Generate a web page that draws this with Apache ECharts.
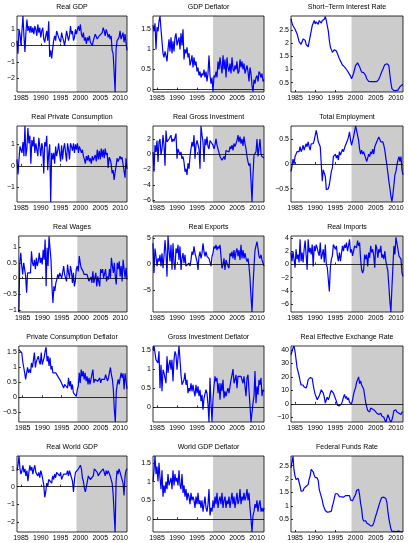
<!DOCTYPE html>
<html>
<head>
<meta charset="utf-8">
<title>Panels</title>
<script src="https://cdn.jsdelivr.net/npm/echarts@6.0.0/dist/echarts.min.js"></script>
<style>
html,body{margin:0;padding:0;background:#fff;}
#main{width:408px;height:543px;}
</style>
</head>
<body>
<div id="main"></div>
<script>
// quarterly data, 1984Q1 ... 2011Q4
var startYear = 1984;
var endYear = 2011.75;
var shadeFrom = 1999;
var yearTicks = [1985, 1990, 1995, 2000, 2005, 2010];

var realGdp = [0.3,-0.5,1.0,0.7,0.0,0.9,1.82,0.6,-0.4,0.8,1.6,0.9,1.2,0.8,
  1.2,0.8,1.1,0.7,1.2,1.0,0.6,1.3,0.8,1.1,0.5,0.9,1.1,0.4,0.2,
  0.6,0.9,0.3,1.5,-0.7,-0.3,-0.8,-0.2,0.3,0.6,0.3,0.9,0.7,0.5,0.6,0.2,
  0.8,0.5,0.3,0.0,0.4,0.9,0.6,0.3,0.6,1.2,0.7,
  0.9,0.3,0.5,1.0,0.7,1.0,1.2,0.9,1.3,0.7,0.5,0.8,0.3,0.5,0.1,0.5,
  0.3,0.6,0.2,0.1,0.0,0.3,0.5,0.7,0.6,0.4,0.3,0.6,0.7,0.5,0.8,
  1.1,0.9,0.6,1.0,0.8,0.5,0.7,0.4,0.6,-0.3,-0.5,-1.6,-2.86,-0.2,0.3,0.2,
  0.5,0.9,0.4,0.3,0.8,0.2,0.7,0.2,-0.3];

var gdpDeflator = [1.6,1.45,1.65,1.0,1.55,1.45,1.7,1.83,1.5,1.2,0.9,0.8,0.95,0.85,
  0.7,1.0,1.25,0.95,1.3,0.9,1.2,0.95,1.3,1.4,1.1,1.2,1.3,1.0,1.4,
  1.1,1.5,0.75,1.0,0.9,1.05,0.8,0.9,0.6,0.7,0.85,0.55,0.8,0.6,0.7,0.45,
  0.55,0.35,0.45,0.3,0.4,0.35,0.5,0.3,0.45,0.2,0.4,
  0.85,0.35,0.15,0.3,-0.05,0.35,0.3,0.45,0.3,0.7,0.5,0.8,0.6,0.4,0.85,0.5,
  0.75,0.3,0.8,0.55,0.45,0.65,0.4,0.8,0.5,0.45,0.6,0.5,0.7,0.4,0.45,
  0.75,0.55,0.7,0.5,0.65,0.4,0.5,0.6,0.45,0.2,0.55,0.4,0.1,-0.05,0.25,0.15,
  0.3,0.35,0.2,0.45,0.4,0.3,0.4,0.2,0.25];

var shortRate = [2.92,2.75,2.65,2.6,2.52,2.47,2.35,2.2,2.05,1.98,1.95,2.05,2.15,2.15,
  2.1,1.95,1.9,1.85,2.05,2.25,2.45,2.65,2.75,2.85,2.72,2.8,2.78,2.7,2.85,
  2.8,2.75,2.85,2.9,2.9,3.0,2.85,2.65,2.45,2.1,1.85,1.75,1.65,1.7,1.75,1.75,
  1.7,1.65,1.5,1.4,1.4,1.25,1.17,1.13,1.1,1.08,1.0,
  0.95,0.88,0.82,0.75,0.65,0.72,0.85,1.0,1.15,1.22,1.25,1.2,1.1,1.0,0.9,0.88,
  0.88,0.85,0.78,0.65,0.6,0.55,0.54,0.54,0.54,0.54,0.54,0.54,0.54,0.54,0.58,
  0.63,0.72,0.82,0.92,1.0,1.1,1.18,1.2,1.22,1.24,1.15,0.8,0.5,0.28,0.22,0.2,
  0.2,0.2,0.2,0.22,0.28,0.35,0.4,0.42,0.43];

var realCons = [0.3,-0.4,0.3,0.9,0.75,0.6,1.1,0.45,1.85,0.45,0.8,1.75,1.05,1.4,
  0.1,1.2,0.9,1.35,0.6,1.05,0.75,0.45,1.3,0.9,0.45,1.05,0.8,-0.35,1.1,
  0.9,1.4,-0.2,0.6,1.0,-1.68,0.6,0.3,0.6,0.1,0.9,0.45,0.7,1.05,0.6,0.2,
  0.95,0.3,0.8,1.05,0.6,0.2,1.05,0.75,0.3,1.05,0.9,
  0.7,1.05,0.6,1.0,0.75,1.05,0.6,0.9,0.95,0.6,0.75,0.45,0.3,0.1,0.45,0.25,
  0.5,0.2,0.35,0.1,0.45,0.25,0.3,0.5,0.2,0.75,0.3,0.7,0.3,0.8,0.4,
  0.75,0.35,0.8,0.5,0.6,-0.1,0.4,0.3,0.1,-0.35,-0.2,-0.65,-0.3,0.0,0.35,0.2,
  0.3,0.45,0.3,0.4,0.35,0.45,-0.55,0.35,-0.15];

var realInv = [0.3,-2.3,1.2,0.3,1.8,-1.0,1.6,2.0,-0.1,0.7,2.5,1.2,-1.5,3.1,
  1.6,1.8,2.0,1.8,2.5,1.6,2.0,1.7,2.2,2.7,-0.6,0.7,0.3,-0.1,0.3,
  -0.6,-0.3,-1.0,-2.3,-1.9,-2.7,-1.2,-1.9,-0.3,0.7,1.6,1.0,2.5,-0.6,1.2,1.8,
  2.0,0.7,-1.9,3.7,2.5,1.6,-1.0,2.0,1.2,2.3,1.0,
  0.7,1.8,2.0,1.6,1.2,0.7,1.2,2.0,1.2,0.7,0.9,-0.3,-0.1,-0.8,-0.6,-0.3,
  -0.7,0.5,0.3,0.7,0.3,1.0,0.7,1.2,0.5,1.4,1.0,0.9,1.8,2.5,1.6,
  2.3,1.4,2.0,1.1,2.3,1.4,0.7,-0.3,-1.0,-1.5,-1.2,-3.5,-6.26,-2.7,-0.1,-0.3,
  0.3,2.0,-0.3,-0.5,2.0,0.0,-0.3,-0.4,-0.5];

var employment = [-0.15,-0.05,0.1,0.0,0.15,0.2,0.25,0.28,0.25,0.35,
  0.25,0.3,0.38,0.28,0.25,0.41,0.35,0.45,0.35,0.28,
  0.41,0.45,0.41,0.48,0.58,0.68,0.58,0.45,0.41,
  0.35,0.0,-0.35,-0.12,-0.15,-0.25,-0.52,-0.49,-0.5,-0.42,
  -0.28,-0.15,-0.08,0.15,0.12,0.2,0.12,0.18,0.08,0.25,
  0.18,0.2,0.3,0.25,0.32,0.38,0.41,0.48,0.55,
  0.65,0.48,0.38,0.41,0.55,0.58,0.77,0.68,0.65,0.48,
  0.3,0.2,0.28,0.2,0.25,0.18,0.12,0.05,0.12,0.2,
  0.15,0.25,0.2,0.3,0.2,0.35,0.38,0.45,0.48,
  0.55,0.5,0.45,0.48,0.45,0.38,0.28,0.12,-0.02,-0.18,
  -0.35,-0.49,-0.65,-0.76,-0.62,-0.42,-0.22,-0.15,-0.02,0.08,
  0.15,0.05,0.15,-0.12,-0.22];

var realWages = [-1.07,0.5,0.82,0.4,0.13,0.5,0.3,0.07,-0.45,0.18,
  0.18,0.23,0.18,0.87,0.5,0.4,0.6,0.3,0.66,0.4,
  0.55,0.82,0.5,0.66,0.45,0.92,0.6,1.25,-0.25,
  0.98,0.4,1.35,1.36,0.6,-0.25,-0.78,-0.25,-0.4,-0.14,
  -0.03,0.13,0.02,0.18,0.13,0.02,0.2,0.4,0.13,0.18,
  -0.09,0.45,0.18,0.02,0.4,0.23,-0.14,0.18,-0.25,
  -0.09,0.3,0.4,0.23,0.72,0.5,0.34,0.4,0.23,0.13,
  0.07,0.18,0.13,0.13,-0.09,-0.03,0.05,-0.14,0.23,-0.14,
  0.02,0.18,-0.25,0.07,-0.09,-0.25,0.3,0.18,0.3,
  0.02,0.15,0.3,-0.09,0.07,-0.03,0.3,0.02,0.66,0.4,
  0.18,0.5,0.07,-0.19,0.5,0.3,0.55,0.07,0.4,-0.09,
  0.6,0.55,0.02,0.34,-0.03];

var realExports = [4.0,-1.7,3.0,1.5,-0.4,1.1,0.5,1.8,-0.4,2.1,
  -0.8,1.5,4.6,2.1,-2.4,5.4,2.7,0.5,3.7,-1.1,
  4.0,0.2,-1.1,3.0,2.1,3.7,0.8,3.4,-1.1,
  1.1,2.1,0.2,1.8,-0.4,-0.1,-0.4,0.2,-0.4,0.8,
  2.4,1.8,3.4,2.1,2.4,0.5,-1.1,1.5,2.4,1.1,
  2.1,4.0,2.4,1.5,2.4,1.5,1.8,1.1,0.8,
  -0.4,1.5,2.1,3.4,3.0,3.7,2.7,3.4,3.0,3.7,
  1.5,-0.8,-0.1,1.1,-1.1,0.8,0.5,-0.4,-0.8,2.1,
  1.5,2.4,1.1,2.7,0.8,2.4,3.0,1.5,2.7,
  0.8,3.7,1.1,2.7,1.1,2.1,1.1,0.5,1.1,-0.4,
  -2.7,-6.2,-9.2,-4.3,-0.4,2.7,2.4,4.3,3.0,1.5,
  1.1,1.8,0.8,1.0,-0.4];

var realImports = [1.8,0.5,2.0,2.3,-0.5,2.3,0.8,1.5,0.3,
  3.8,0.5,1.8,0.3,2.3,3.6,3.3,-0.8,3.8,1.8,
  2.5,1.5,3.0,-0.3,2.8,2.0,3.0,2.5,1.8,1.3,
  3.3,0.8,1.5,2.3,0.3,3.0,0.0,-0.5,-0.8,-4.1,
  -0.5,0.8,1.3,3.0,3.3,2.3,2.8,1.3,0.5,1.8,
  0.5,0.3,2.8,2.0,3.0,2.5,3.3,2.0,2.8,
  3.8,1.8,2.3,1.3,2.0,2.8,3.0,2.5,3.6,2.8,
  3.3,0.8,-0.8,-1.3,-0.8,1.5,0.8,1.5,-0.3,1.8,
  1.0,2.8,1.8,2.3,1.3,-0.5,3.0,2.5,1.0,
  2.3,1.8,2.8,1.0,1.5,0.8,2.0,0.5,0.3,-1.0,
  -3.3,-5.6,-7.2,-3.6,-0.3,2.8,1.5,4.1,4.3,2.3,
  1.3,1.0,0.8,-1.3,-1.8];

var pcDeflator = [1.6,1.55,1.66,1.5,1.2,1.15,0.82,0.6,0.82,1.0,
  0.82,0.93,0.82,1.15,1.0,1.05,1.5,1.0,1.2,1.15,
  1.38,1.2,1.1,1.5,1.1,1.15,1.33,1.55,1.68,
  1.2,1.38,1.05,1.33,0.93,1.05,0.82,0.76,0.88,0.82,
  0.76,0.7,0.76,0.7,0.54,0.6,0.48,0.31,0.43,
  0.37,0.48,0.31,0.65,0.37,0.54,0.26,0.43,0.15,0.2,
  0.09,0.03,0.26,0.37,0.82,0.48,0.93,0.7,0.88,0.6,
  0.82,0.54,0.7,0.43,0.65,0.43,0.6,0.54,0.93,0.48,
  0.6,0.54,0.6,0.54,0.6,0.65,0.48,0.6,0.65,
  0.54,0.6,0.76,0.7,0.54,0.65,0.7,1.0,0.76,0.6,
  0.26,-0.42,-0.83,0.2,0.43,0.6,0.43,0.65,0.82,0.65,
  0.8,0.26,0.8,0.75,0.28];

var giDeflator = [1.5,1.6,1.55,1.24,1.29,1.16,1.46,0.5,1.11,0.42,
  0.98,0.9,0.94,0.63,1.33,0.9,1.11,1.24,0.98,1.24,
  0.68,1.24,1.46,1.37,0.98,1.03,1.6,1.24,0.85,0.59,
  0.55,0.72,0.9,0.59,0.72,0.37,0.5,0.42,0.63,
  0.42,0.59,0.42,0.29,0.59,0.37,0.55,0.29,0.46,0.16,
  0.33,-0.06,0.24,0.2,0.46,0.37,0.07,-0.38,0.77,0.11,
  -0.38,0.24,0.55,0.81,0.68,0.77,0.37,0.63,0.2,0.63,
  0.42,0.72,0.24,0.42,0.29,0.42,0.5,0.37,0.55,
  0.72,0.85,1.0,0.63,0.72,0.85,0.5,0.81,0.77,
  0.85,0.81,0.85,0.63,0.81,0.77,0.29,0.77,0.85,0.81,
  0.03,-0.38,-0.38,0.11,0.29,0.95,0.11,0.55,0.33,0.72,
  0.59,0.77,0.29,0.46,0.42];

var reer = [36.5,39,41.5,43,39,33,27,24,21,17,14,13,14,12.5,
  12,11.8,14,18,18,19.5,20,19,14,10,7,5,3,2,6,
  8,10.5,10,8,5,0.5,3,5,3,5,8,10,9,8,7,4,
  2,-1,-2,-1.5,-1.5,0,2,5,7,4,5.5,
  3,4.5,1,0.5,0,3,7,10,12,16,18,20,15,17,14,15,
  11,6,1,-2,-5,-4,-6,-3,-2,-4,-5,-5,-4,-7,-6,
  -8,-9,-7,-9,-9,-10,-12,-13.5,-11,-8,-10,-12,-13.5,-12,-9,-5,
  -4,-4.5,-6,-5,-7,-6,-8,-6,-6.5];

var worldGdp = [0.9,1.2,1.72,1.0,0.7,0.9,1.2,0.8,1.0,0.6,0.9,0.3,0.8,1.2,
  0.9,1.1,0.7,1.0,1.2,0.8,0.9,0.6,0.8,0.5,0.9,0.7,0.4,0.1,-0.6,
  -0.3,0.2,0.0,0.4,0.3,0.5,0.2,0.6,0.4,0.7,0.5,0.8,0.9,0.7,0.6,0.8,
  0.4,0.5,0.7,0.6,0.8,0.7,0.9,0.6,0.9,1.0,0.5,
  0.3,-0.3,0.4,0.8,0.9,0.7,1.0,1.1,1.2,1.0,0.5,0.3,-0.1,-0.3,0.0,0.3,
  0.6,0.7,0.4,0.5,0.3,0.6,1.0,0.9,1.0,0.8,0.6,0.7,0.8,0.7,0.8,
  1.0,0.8,0.6,0.9,0.7,0.9,0.8,0.6,0.5,0.2,-0.4,-1.5,-2.55,0.3,0.9,0.7,
  1.0,0.8,0.6,0.5,0.2,-0.5,0.6,0.9,1.0];

var worldDeflator = [1.0,1.3,1.68,1.2,1.4,1.0,1.5,1.1,0.8,1.3,0.6,0.9,0.7,1.0,
  0.8,1.2,0.9,1.0,1.1,0.8,1.3,0.9,1.2,1.0,1.1,0.9,1.3,0.9,0.8,
  1.2,0.7,0.9,0.6,0.8,0.5,0.7,0.6,0.4,0.7,0.5,0.6,0.5,0.3,0.6,0.4,
  0.7,0.4,0.5,0.3,0.5,0.2,0.4,0.6,0.3,0.2,0.4,
  0.8,0.1,0.3,0.2,0.5,0.3,0.6,0.4,0.7,0.3,0.5,0.6,0.4,0.7,0.3,0.5,
  0.6,0.3,0.5,0.4,0.6,0.3,0.5,0.7,0.4,0.6,0.3,0.5,0.7,0.4,0.5,
  0.8,0.4,0.6,0.5,0.7,0.5,0.6,0.8,0.5,0.7,0.3,0.0,-0.34,0.1,0.2,0.4,
  0.3,0.5,0.2,0.4,0.5,0.2,0.3,0.2,0.3];

var fedFunds = [2.42,2.64,2.85,2.32,2.12,1.98,1.98,2.03,1.96,1.73,1.55,1.57,
  1.56,1.66,1.71,1.73,1.67,1.79,2.00,2.12,2.36,2.43,2.27,2.15,
  2.06,2.06,2.04,1.94,1.61,1.47,1.41,1.21,1.01,0.94,0.82,0.76,
  0.76,0.75,0.77,0.75,0.80,0.99,1.12,1.29,1.45,1.51,1.45,1.43,
  1.34,1.31,1.33,1.32,1.32,1.38,1.38,1.38,1.38,1.38,1.38,1.22,
  1.18,1.19,1.27,1.33,1.42,1.57,1.63,1.62,1.40,1.08,0.88,0.53,
  0.43,0.44,0.44,0.36,0.31,0.31,0.26,0.25,0.25,0.26,0.36,0.49,
  0.62,0.74,0.87,1.00,1.12,1.23,1.31,1.31,1.32,1.31,1.27,1.13,
  0.80,0.52,0.49,0.13,0.05,0.05,0.04,0.03,0.03,0.05,0.05,0.05,
  0.04,0.02,0.02,0.02];

var panels = [
  {title:'Real GDP', data:realGdp, min:-2.86, max:1.82, ticks:[-2,-1,0,1]},
  {title:'GDP Deflator', data:gdpDeflator, min:-0.06, max:1.83, ticks:[0,0.5,1,1.5]},
  {title:'Short\u2212Term Interest Rate', data:shortRate, min:0.15, max:3.02, ticks:[0.5,1,1.5,2,2.5]},
  {title:'Real Private Consumption', data:realCons, min:-1.68, max:1.85, ticks:[-1,0,1]},
  {title:'Real Gross Investment', data:realInv, min:-6.26, max:3.7, ticks:[-6,-4,-2,0,2]},
  {title:'Total Employment', data:employment, min:-0.77, max:0.77, ticks:[-0.5,0,0.5]},
  {title:'Real Wages', data:realWages, min:-1.07, max:1.36, ticks:[-1,-0.5,0,0.5,1]},
  {title:'Real Exports', data:realExports, min:-9.2, max:5.4, ticks:[-5,0,5]},
  {title:'Real Imports', data:realImports, min:-7.2, max:4.3, ticks:[-6,-4,-2,0,2,4]},
  {title:'Private Consumption Deflator', data:pcDeflator, min:-0.83, max:1.72, ticks:[-0.5,0,0.5,1,1.5]},
  {title:'Gross Investment Deflator', data:giDeflator, min:-0.38, max:1.6, ticks:[0,0.5,1,1.5]},
  {title:'Real Effective Exchange Rate', data:reer, min:-13.5, max:43, ticks:[-10,0,10,20,30,40]},
  {title:'Real World GDP', data:worldGdp, min:-2.55, max:1.72, ticks:[-2,-1,0,1]},
  {title:'World GDP Deflator', data:worldDeflator, min:-0.34, max:1.68, ticks:[0,0.5,1,1.5]},
  {title:'Federal Funds Rate', data:fedFunds, min:0.02, max:2.86, ticks:[0.5,1,1.5,2,2.5]}
];

// layout of the 5x3 panel grid
var colLeft = [17, 153, 291];
var colWidth = [110, 111, 112];
var rowTop = [16, 126, 236, 346, 456];
var plotH = 76;
var fontFam = 'Liberation Sans, Arial, sans-serif';

function minus(v){
	return String(v).replace('-', '\u2212');
}
function plain(v){
	return String(v);
}

var myChart = echarts.init(document.getElementById('main'));
var grids = [], xAxes = [], yAxes = [], series = [], titles = [];

for (var i = 0; i < panels.length; i++) {
	var p = panels[i];
	var c = i % 3, r = Math.floor(i / 3);

	grids.push({
		left: colLeft[c], top: rowTop[r], width: colWidth[c], height: plotH,
		show: true, borderColor: '#000', borderWidth: 0.8,
		backgroundColor: 'transparent', z: 10
	});

	titles.push({
		text: p.title,
		left: colLeft[c] + colWidth[c] / 2,
		top: rowTop[r] - 12,
		textAlign: 'center',
		padding: 0,
		textStyle: {fontSize: 7, fontWeight: 'normal', color: '#000', fontFamily: fontFam}
	});

	xAxes.push({
		type: 'value', gridIndex: i, min: startYear, max: endYear,
		axisLine: {show: false},
		axisTick: {show: true, inside: true, length: 2, customValues: yearTicks, lineStyle: {color: '#000', width: 0.8}},
		axisLabel: {show: true, customValues: yearTicks, fontSize: 7, color: '#000', margin: 3, fontFamily: fontFam, formatter: plain},
		splitLine: {show: false}
	});

	yAxes.push({
		type: 'value', gridIndex: i, min: p.min, max: p.max,
		axisLine: {show: false},
		axisTick: {show: true, inside: true, length: 2, customValues: p.ticks, lineStyle: {color: '#000', width: 0.8}},
		axisLabel: {show: true, customValues: p.ticks, fontSize: 7, color: '#000', margin: 2, fontFamily: fontFam, formatter: minus},
		splitLine: {show: false}
	});

	var pts = [];
	for (var k = 0; k < p.data.length; k++) {
		pts.push([startYear + k / 4, p.data[k]]);
	}

	var s = {
		type: 'line', xAxisIndex: i, yAxisIndex: i,
		data: pts, showSymbol: false, symbol: 'none',
		lineStyle: {color: '#0000ff', width: 1.2},
		animation: false,
		markArea: {
			silent: true,
			itemStyle: {color: '#cccccc'},
			data: [[{xAxis: shadeFrom}, {xAxis: endYear}]]
		}
	};
	// zero line only where 0 lies inside the range
	if (p.min < 0 && p.max > 0) {
		s.markLine = {
			silent: true, symbol: 'none',
			label: {show: false},
			lineStyle: {color: '#000', width: 0.8, type: 'solid'},
			data: [{yAxis: 0}]
		};
	}
	series.push(s);
}

var option = {
	backgroundColor: '#fff',
	animation: false,
	title: titles,
	grid: grids,
	xAxis: xAxes,
	yAxis: yAxes,
	series: series
};
myChart.setOption(option);
</script>
</body>
</html>
